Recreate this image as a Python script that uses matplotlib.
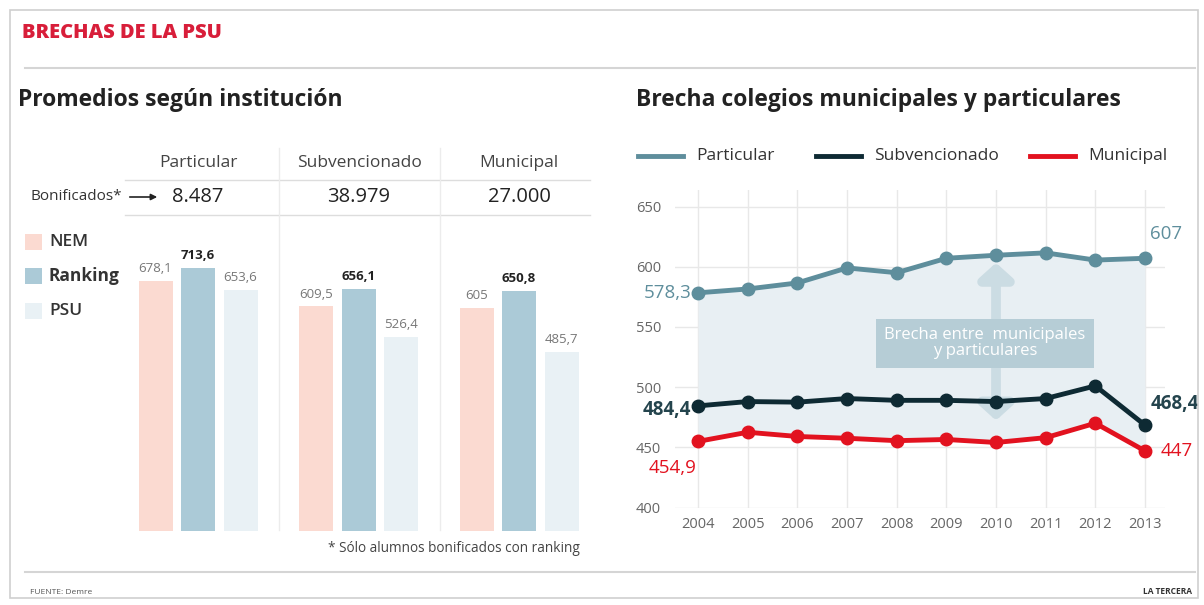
import matplotlib
matplotlib.use("Agg")
import matplotlib.pyplot as plt
from matplotlib.lines import Line2D
from matplotlib.patches import Rectangle, FancyArrowPatch
import numpy as np

plt.rcParams['font.family'] = ['Open Sans', 'DejaVu Sans']

# ---------------- data ----------------
instituciones = ["Particular", "Subvencionado", "Municipal"]
bonificados = ["8.487", "38.979", "27.000"]
series_barras = ["NEM", "Ranking", "PSU"]
nem = [678.1, 609.5, 605.0]
ranking = [713.6, 656.1, 650.8]
psu = [653.6, 526.4, 485.7]

years = [2004, 2005, 2006, 2007, 2008, 2009, 2010, 2011, 2012, 2013]
particular = [578.3, 581.5, 586.5, 599.0, 595.0, 607.0, 609.5, 611.5, 605.5, 607.0]
subvencionado = [484.4, 488.0, 487.5, 490.5, 489.0, 489.0, 488.0, 490.5, 501.0, 468.4]
municipal = [454.9, 462.5, 459.0, 457.5, 455.5, 456.5, 454.0, 458.0, 470.0, 447.0]
y_ticks = [400, 450, 500, 550, 600, 650]

# ---------------- style ----------------
C_NEM = "#fbdad1"
C_RANK = "#abcad7"
C_PSU = "#e9f1f5"
C_PART = "#5e8e9c"
C_SUB = "#0e2a33"
C_MUN = "#e2121f"
GRAY = "#666666"

W, H = 1204, 605
fig = plt.figure(figsize=(W / 100, H / 100), dpi=100)
fig.patch.set_facecolor("white")


def P(x, y):
    return (x / W, 1 - y / H)


def fmt(v):
    s = f"{v:.1f}".replace(".", ",")
    if s.endswith(",0"):
        s = s[:-2]
    return s


# outer frame
fig.add_artist(Rectangle(P(10, 598), (1198 - 10) / W, (598 - 10) / H, transform=fig.transFigure,
                         fill=False, edgecolor="#cfcfcf", lw=1.2))

# header
fig.text(*P(22, 33), "BRECHAS DE LA PSU", color="#d81e3a", fontsize=14.5, fontweight="heavy", va="center")
fig.add_artist(Line2D([25 / W, 1195 / W], [1 - 68 / H, 1 - 68 / H], color="#d5d5d5", lw=1.5))
fig.text(*P(18, 100), "Promedios según institución", fontsize=16.5, fontweight="bold", color="#222222",
         va="center")
fig.text(*P(636, 100), "Brecha colegios municipales y particulares", fontsize=16.5, fontweight="bold",
         color="#222222", va="center")

# bottom rule / source
fig.add_artist(Line2D([25 / W, 1195 / W], [1 - 572 / H, 1 - 572 / H], color="#d5d5d5", lw=1.5))
fig.text(*P(30, 592), "FUENTE: Demre", fontsize=6, color="#555555", va="center")
fig.text(*P(1192, 592), "LA TERCERA", fontsize=6, color="#333333", va="center", ha="right", fontweight="bold")

# ---------------- bar panel ----------------
group_px = [198, 359, 519]
for name, b, xc in zip(instituciones, bonificados, group_px):
    fig.text(*P(xc, 163), name, ha="center", va="center", fontsize=12.5, color="#444444")
    fig.text(*P(xc, 197), b, ha="center", va="center", fontsize=14.5, color="#222222")
for yy in (180, 215):
    fig.add_artist(Line2D([125 / W, 590 / W], [1 - yy / H, 1 - yy / H], color="#dddddd", lw=1))
for xx in (279, 440):
    fig.add_artist(Line2D([xx / W, xx / W], [1 - 148 / H, 1 - 530 / H], color="#ececec", lw=1))
fig.text(*P(122, 197), "Bonificados*", ha="right", va="center", fontsize=11, color="#333333")
fig.add_artist(FancyArrowPatch(P(127, 197), P(160, 197), transform=fig.transFigure,
                               arrowstyle="-|>", mutation_scale=9, color="#222222", lw=1.2))

# bar legend
for lab, col, yy in zip(series_barras, [C_NEM, C_RANK, C_PSU], [242, 276, 311]):
    fig.add_artist(Rectangle(P(25, yy + 8), 17 / W, 16 / H, transform=fig.transFigure,
                             facecolor=col, edgecolor="none"))
    fig.text(*P(49, yy), lab, va="center", fontsize=12.5, color="#333333",
             fontweight="bold" if lab == "Ranking" else "semibold")

# bar axes: 0 at y=531, 0.369 px per unit
ax_bottom, ax_top = 531, 531 - 800 * 0.369
axb = fig.add_axes([110 / W, 1 - ax_bottom / H, (600 - 110) / W, (ax_bottom - ax_top) / H])
axb.set_xlim((110 - 198) / 160.5, (600 - 198) / 160.5)
axb.set_ylim(0, 800)
axb.axis("off")
xg = np.arange(len(instituciones))
off = 42.5 / 160.5
bw = 34 / 160.5
for vals, col, dx, bold in [(nem, C_NEM, -off, False), (ranking, C_RANK, 0, True), (psu, C_PSU, off, False)]:
    axb.bar(xg + dx, vals, width=bw, color=col, edgecolor="none")
    for x, v in zip(xg + dx, vals):
        axb.annotate(fmt(v), (x, v), xytext=(0, 4), textcoords="offset points", ha="center", va="bottom",
                     fontsize=9.5, fontweight="bold" if bold else "normal",
                     color="#222222" if bold else "#777777")
fig.text(*P(580, 548), "* Sólo alumnos bonificados con ranking", ha="right", va="center", fontsize=9.8,
         color="#444444")

# ---------------- line panel ----------------
x_left, x_right = 675, 1165
px_year = (1145 - 698) / 9
y_top, y_bot = 190, 507.5
px_unit = (507.5 - 206.5) / 250
axl = fig.add_axes([x_left / W, 1 - y_bot / H, (x_right - x_left) / W, (y_bot - y_top) / H])
axl.set_xlim(2004 - (698 - x_left) / px_year, 2013 + (x_right - 1145) / px_year)
axl.set_ylim(400, 400 + (y_bot - y_top) / px_unit)
for s in axl.spines.values():
    s.set_visible(False)
axl.set_yticks(y_ticks)
axl.set_xticks(years)
axl.set_xticklabels([str(y) for y in years])
axl.tick_params(axis="both", length=0, labelsize=10.5, labelcolor=GRAY)
axl.tick_params(axis="y", pad=10)
axl.tick_params(axis="x", pad=7)
axl.grid(True, color="#e8e8e8", lw=1)
axl.set_axisbelow(True)

axl.fill_between(years, municipal, particular, color="#e8eff3", zorder=1, lw=0)
# gap arrow at 2010
i10 = years.index(2010)
axl.annotate("", xy=(2010, particular[i10] - 4), xytext=(2010, 530),
             arrowprops=dict(arrowstyle="-|>,head_width=1.0,head_length=0.9", color="#cbdce3", lw=7), zorder=2)
axl.annotate("", xy=(2010, municipal[i10] + 16), xytext=(2010, 520),
             arrowprops=dict(arrowstyle="-|>,head_width=1.0,head_length=0.9", color="#cbdce3", lw=7), zorder=2)
axl.text(2009.78, 536.5, "Brecha entre  municipales\ny particulares", ha="center", va="center", fontsize=12,
         color="white", linespacing=1.05, zorder=3,
         bbox=dict(boxstyle="square,pad=0.5", facecolor="#b6cdd6", edgecolor="none"))

for vals, col in [(particular, C_PART), (subvencionado, C_SUB), (municipal, C_MUN)]:
    axl.plot(years, vals, color=col, lw=3.5, marker="o", ms=9, zorder=4)

axl.annotate(fmt(particular[0]), (2004, particular[0]), xytext=(-5, 0), textcoords="offset points",
             ha="right", va="center", fontsize=13.5, color=C_PART, annotation_clip=False)
axl.annotate(fmt(particular[-1]), (2013, particular[-1]), xytext=(15, 11), textcoords="offset points",
             ha="center", va="bottom", fontsize=13.5, color=C_PART, annotation_clip=False)
axl.annotate(fmt(subvencionado[0]), (2004, subvencionado[0]), xytext=(-5, -3), textcoords="offset points",
             ha="right", va="center", fontsize=13.5, fontweight="bold", color="#24444d", annotation_clip=False)
axl.annotate(fmt(subvencionado[-1]), (2013, subvencionado[-1]), xytext=(4, 15), textcoords="offset points",
             ha="left", va="center", fontsize=13.5, fontweight="bold", color="#24444d", annotation_clip=False)
axl.annotate(fmt(municipal[0]), (2004, municipal[0]), xytext=(-18, -19), textcoords="offset points",
             ha="center", va="center", fontsize=13.5, color=C_MUN, annotation_clip=False)
axl.annotate(fmt(municipal[-1]), (2013, municipal[-1]), xytext=(11, 0), textcoords="offset points",
             ha="left", va="center", fontsize=13.5, color=C_MUN, annotation_clip=False)

# line legend
for lab, col, x0 in [("Particular", C_PART, 638), ("Subvencionado", C_SUB, 816), ("Municipal", C_MUN, 1030)]:
    fig.add_artist(Line2D([x0 / W, (x0 + 45) / W], [1 - 156 / H, 1 - 156 / H], color=col, lw=3.5))
    fig.text(*P(x0 + 58, 156), lab, va="center", fontsize=12.5, color="#333333")

fig.savefig("out.png", dpi=100, facecolor="white")
